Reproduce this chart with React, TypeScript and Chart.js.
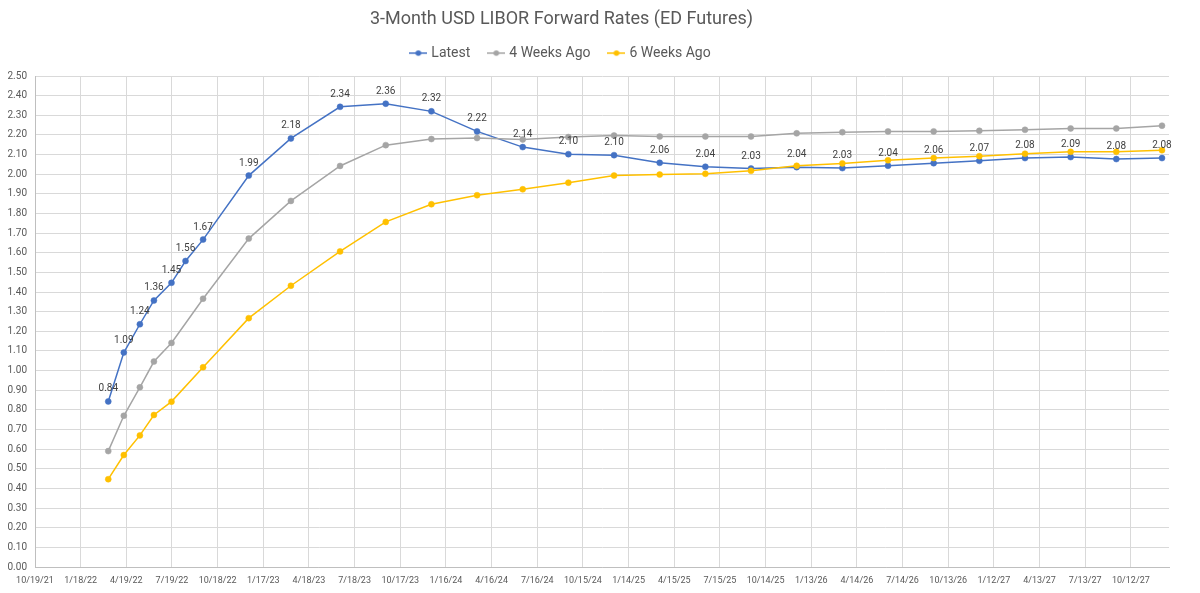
import { useEffect, useRef } from 'react';
import { Chart, registerables } from 'chart.js';

Chart.register(...registerables);

// Eurodollar futures last-trading dates (M/D/YY)
const contractDates = [
  '3/14/22', '4/14/22', '5/16/22', '6/13/22', '7/18/22', '8/15/22', '9/19/22',
  '12/19/22', '3/13/23', '6/19/23', '9/18/23', '12/18/23', '3/18/24', '6/17/24',
  '9/16/24', '12/16/24', '3/17/25', '6/16/25', '9/15/25', '12/15/25', '3/16/26',
  '6/15/26', '9/14/26', '12/14/26', '3/15/27', '6/14/27', '9/13/27', '12/13/27',
];

// Implied 3M LIBOR (%) per contract
const latestRates = [
  0.843, 1.092, 1.236, 1.357, 1.447, 1.558, 1.667,
  1.993, 2.182, 2.343, 2.359, 2.32, 2.218, 2.138,
  2.102, 2.097, 2.058, 2.038, 2.029, 2.036, 2.031,
  2.043, 2.056, 2.068, 2.082, 2.087, 2.077, 2.082,
];

const fourWeeksAgoRates = [
  0.59, 0.77, 0.915, 1.046, 1.141, null, 1.366,
  1.672, 1.864, 2.042, 2.148, 2.179, 2.184, 2.177,
  2.189, 2.197, 2.192, 2.192, 2.192, 2.208, 2.214,
  2.218, 2.218, 2.221, 2.226, 2.233, 2.233, 2.247,
];

const sixWeeksAgoRates = [
  0.447, 0.57, 0.67, 0.774, 0.842, null, 1.017,
  1.267, 1.432, 1.607, 1.757, 1.847, 1.893, 1.923,
  1.957, 1.993, 1.998, 2.002, 2.017, 2.043, 2.055,
  2.071, 2.082, 2.092, 2.104, 2.114, 2.114, 2.122,
];

const seriesNames = ['Latest', '4 Weeks Ago', '6 Weeks Ago'];
const seriesColors = ['#4472C4', '#A5A5A5', '#FFC000'];

const xTickLabels = [
  '10/19/21', '1/18/22', '4/19/22', '7/19/22', '10/18/22', '1/17/23', '4/18/23',
  '7/18/23', '10/17/23', '1/16/24', '4/16/24', '7/16/24', '10/15/24', '1/14/25',
  '4/15/25', '7/15/25', '10/14/25', '1/13/26', '4/14/26', '7/14/26', '10/13/26',
  '1/12/27', '4/13/27', '7/13/27', '10/12/27',
];
const xAxisEnd = '12/27/27';

const yTickValues = [
  0, 0.1, 0.2, 0.3, 0.4, 0.5, 0.6, 0.7, 0.8, 0.9, 1.0, 1.1, 1.2,
  1.3, 1.4, 1.5, 1.6, 1.7, 1.8, 1.9, 2.0, 2.1, 2.2, 2.3, 2.4, 2.5,
];

const TITLE = '3-Month USD LIBOR Forward Rates (ED Futures)';
const FONT = 'Roboto, "Noto Sans", sans-serif';
const TEXT_COLOR = '#595959';
const HEADER_RIGHT = 1123;

const toDay = (mdy: string) => {
  const [m, d, y] = mdy.split('/').map(Number);
  return Date.UTC(2000 + y, m - 1, d) / 86400000;
};

const formatDay = (day: number) => {
  const dt = new Date(Math.round(day) * 86400000);
  return `${dt.getUTCMonth() + 1}/${dt.getUTCDate()}/${String(dt.getUTCFullYear()).slice(2)}`;
};

const toPoints = (values: (number | null)[]) =>
  contractDates.map((d, i) => ({ x: toDay(d), y: values[i] }));

// Small line-with-dot swatch used as the legend symbol
function legendMarker(color: string) {
  const c = document.createElement('canvas');
  c.width = 18;
  c.height = 8;
  const g = c.getContext('2d')!;
  g.strokeStyle = color;
  g.lineWidth = 1.5;
  g.beginPath();
  g.moveTo(0, 4);
  g.lineTo(18, 4);
  g.stroke();
  g.fillStyle = color;
  g.beginPath();
  g.arc(9, 4, 2.8, 0, Math.PI * 2);
  g.fill();
  return c;
}

// Value labels above each point of the "Latest" curve
const latestValueLabels = {
  id: 'latestValueLabels',
  afterDatasetsDraw(chart: any) {
    const meta = chart.getDatasetMeta(0);
    const ctx = chart.ctx;
    ctx.save();
    ctx.font = `10px ${FONT}`;
    ctx.fillStyle = '#404040';
    ctx.textAlign = 'center';
    ctx.textBaseline = 'middle';
    meta.data.forEach((pt: any, i: number) => {
      const v = latestRates[i];
      ctx.fillText(v.toFixed(2), pt.x, pt.y - 12.5);
    });
    ctx.restore();
  },
};

// Header (title + legend) sits centred over the left part of the canvas
const headerPlacement = {
  id: 'headerPlacement',
  afterLayout(chart: any) {
    const t = chart.titleBlock;
    if (t) {
      t.left = 0;
      t.right = HEADER_RIGHT;
    }
    const l = chart.legend;
    if (l) {
      l.left = 0;
      l.right = HEADER_RIGHT;
      l.top -= 5.9;
      l.bottom -= 5.9;
    }
  },
};

export default function App() {
  const canvasRef = useRef<HTMLCanvasElement | null>(null);

  useEffect(() => {
    const canvas = canvasRef.current;
    if (!canvas) return;
    const markers = seriesColors.map(legendMarker);
    const seriesValues = [latestRates, fourWeeksAgoRates, sixWeeksAgoRates];

    const chart = new Chart(canvas, {
      type: 'line',
      data: {
        datasets: seriesValues.map((vals, i) => ({
          label: seriesNames[i],
          data: toPoints(vals),
          borderColor: seriesColors[i],
          backgroundColor: seriesColors[i],
          pointBackgroundColor: seriesColors[i],
          pointBorderColor: seriesColors[i],
          pointRadius: 3,
          pointBorderWidth: 0.5,
          borderWidth: 1.5,
          tension: 0,
          spanGaps: true,
          order: 3 - i,
        })),
      },
      options: {
        responsive: false,
        animation: false,
        events: [],
        layout: { padding: { left: 0, right: 31, top: 0, bottom: 0 } },
        plugins: {
          title: {
            display: true,
            text: TITLE,
            color: TEXT_COLOR,
            font: { family: FONT, size: 18, weight: 'normal' },
            padding: { top: 9, bottom: 1.4 },
          },
          legend: {
            display: true,
            position: 'top',
            labels: {
              usePointStyle: true,
              pointStyleWidth: 12,
              padding: 20,
              color: TEXT_COLOR,
              font: { family: FONT, size: 14 },
              generateLabels: (c: any) =>
                c.data.datasets.map((ds: any, i: number) => ({
                  text: ds.label,
                  fillStyle: ds.borderColor,
                  strokeStyle: ds.borderColor,
                  lineWidth: 0,
                  pointStyle: markers[i],
                  hidden: false,
                  datasetIndex: i,
                  fontColor: TEXT_COLOR,
                })),
            },
          },
          tooltip: { enabled: false },
        },
        scales: {
          x: {
            type: 'linear',
            min: toDay(xTickLabels[0]),
            max: toDay(xAxisEnd),
            afterBuildTicks: (s: any) => {
              s.ticks = xTickLabels.map((l) => ({ value: toDay(l) }));
            },
            afterFit: (s: any) => {
              s.height = 26;
            },
            ticks: {
              autoSkip: false,
              maxRotation: 0,
              minRotation: 0,
              padding: 8,
              color: TEXT_COLOR,
              font: { family: FONT, size: 9 },
              callback: (v: any) => formatDay(Number(v)),
            },
            grid: { color: '#d9d9d9', lineWidth: 1, drawTicks: false },
            border: { color: '#bfbfbf', width: 1 },
          },
          y: {
            type: 'linear',
            min: 0,
            max: 2.5,
            afterBuildTicks: (s: any) => {
              s.ticks = yTickValues.map((v) => ({ value: v }));
            },
            afterFit: (s: any) => {
              s.width = 35;
            },
            ticks: {
              padding: 8,
              color: TEXT_COLOR,
              font: { family: FONT, size: 10 },
              callback: (v: any) => Number(v).toFixed(2),
            },
            grid: { color: '#d9d9d9', lineWidth: 1, drawTicks: false },
            border: { color: '#bfbfbf', width: 1 },
          },
        },
      } as any,
      plugins: [latestValueLabels, headerPlacement],
    });

    return () => chart.destroy();
  }, []);

  return (
    <div style={{ position: 'absolute', left: 0, top: 0, width: 1200, height: 593, background: '#ffffff' }}>
      <canvas ref={canvasRef} width={1200} height={593} style={{ display: 'block' }} />
    </div>
  );
}
